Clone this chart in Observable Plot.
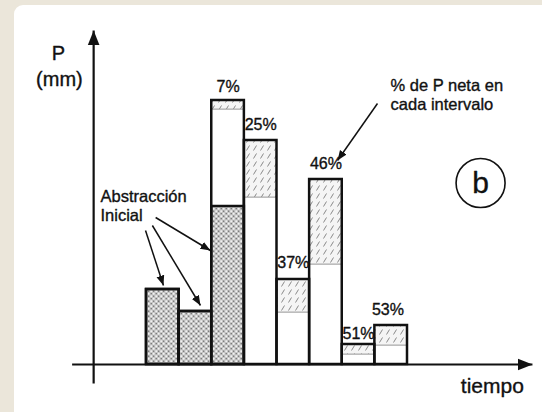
<!DOCTYPE html>
<html><head><meta charset="utf-8">
<script src="https://cdn.jsdelivr.net/npm/d3@7"></script>
<script src="https://cdn.jsdelivr.net/npm/@observablehq/plot@0.6"></script>
<style>
html,body{margin:0;padding:0;background:#ebe6da;}
#wrap{position:relative;width:542px;height:412px;overflow:hidden;}
#panel{position:absolute;left:14px;top:5px;width:560px;height:440px;background:#fff;border-radius:9px;}
#chart{position:absolute;left:0;top:0;}
</style></head><body>
<div id="wrap"><div id="panel"></div><div id="chart"></div></div>
<script>
// Time intervals and rainfall components (mm)
const intervals = [1, 2, 3, 4, 5, 6, 7, 8];
const abstraction = [7.5, 5.3, 15.8, 0, 0, 0, 0, 0];   // dotted: initial abstraction
const losses = [0, 0, 9.7, 16.7, 5.2, 10.0, 1.0, 1.9];    // white: continuing losses
const netRain = [0, 0, 0.9, 5.7, 3.3, 8.5, 1.0, 2.0];     // hatched: net precipitation
const pctLabels = ["", "", "7%", "25%", "37%", "46%", "51%", "53%"];
const pctX = [null, null, 2.5, 3.5, 4.5, 5.5, 6.5, 7.4];
const pctY = [null, null, 27.8, 24.0, 10.2, 20.1, 3.05, 5.5];

// axes (data units)
const axisLinks = [
  {x1: -1.62, y1: -1.9, x2: -1.62, y2: 33.4},
  {x1: -2.28, y1: 0, x2: 11.83, y2: 0}
];
const axisTitles = [
  {x: -2.70, y: 31.05, text: "P", size: 20},
  {x: -2.67, y: 28.5, text: "(mm)", size: 20},
  {x: 10.6, y: -2.2, text: "tiempo", size: 21}
];
const noteTexts = [
  {x: -1.41, y: 16.8, text: "Abstracción"},
  {x: -1.41, y: 14.85, text: "Inicial"},
  {x: 7.48, y: 27.85, text: "% de P neta en"},
  {x: 7.48, y: 25.95, text: "cada intervalo"}
];
const noteArrows = [
  {x1: -0.03, y1: 13.4, x2: 0.52, y2: 7.9},
  {x1: 0.18, y1: 13.9, x2: 1.655, y2: 5.9},
  {x1: 0.28, y1: 14.7, x2: 1.96, y2: 11.4},
  {x1: 7.08, y1: 26.1, x2: 5.855, y2: 20.4}
];
const panelTag = [{x: 10.24, y: 18.15, text: "b"}];

const rows = intervals.flatMap((t, i) => {
  const a = abstraction[i], l = losses[i], n = netRain[i];
  return [
    {t, kind: "abs", y1: 0, y2: a},
    {t, kind: "loss", y1: a, y2: a + l},
    {t, kind: "net", y1: a + l, y2: a + l + n}
  ].filter(d => d.y2 > d.y1);
});
const totals = intervals.map((t, i) => ({t, total: abstraction[i] + losses[i] + netRain[i]}));
const pcts = intervals.map((t, i) => ({x: pctX[i], y: pctY[i], text: pctLabels[i]})).filter(d => d.text);

const font = "Liberation Sans, Arial, Helvetica, sans-serif";
const ink = {fill: "#111", stroke: "#111", strokeWidth: 0.35};
const svg = Plot.plot({
  width: 542, height: 412, margin: 0,
  x: {domain: [0, 8], range: [146, 407], axis: null},
  y: {domain: [0, 26.4], range: [364, 100], axis: null},
  style: {background: "transparent", fontFamily: font, overflow: "visible", color: "#111"},
  marks: [
    Plot.rect(rows.filter(d => d.kind === "loss"), {x1: d => d.t - 1, x2: d => d.t, y1: "y1", y2: "y2", fill: "white", stroke: "#999", strokeWidth: 0.8}),
    Plot.rect(rows.filter(d => d.kind === "net"), {x1: d => d.t - 1, x2: d => d.t, y1: "y1", y2: "y2", fill: "url(#hatch)", stroke: "#999", strokeWidth: 0.8}),
    Plot.rect(rows.filter(d => d.kind === "abs"), {x1: d => d.t - 1, x2: d => d.t, y1: "y1", y2: "y2", fill: "url(#stip)", stroke: "#111", strokeWidth: 2.5}),
    Plot.rect(totals, {x1: d => d.t - 1, x2: d => d.t, y1: 0, y2: "total", fill: "none", stroke: "#111", strokeWidth: 2.5}),
    Plot.link(axisLinks, {x1: "x1", y1: "y1", x2: "x2", y2: "y2", stroke: "#111", strokeWidth: 2.2, markerEnd: "arrow"}),
    Plot.link(noteArrows, {x1: "x1", y1: "y1", x2: "x2", y2: "y2", stroke: "#111", strokeWidth: 1.5, markerEnd: "arrow"}),
    Plot.text(pcts, {x: "x", y: "y", text: "text", fontSize: 16, ...ink}),
    Plot.text(axisTitles, {x: "x", y: "y", text: "text", fontSize: d => d.size, ...ink}),
    Plot.text(noteTexts, {x: "x", y: "y", text: "text", fontSize: 16.5, textAnchor: "start", ...ink}),
    Plot.dot(panelTag, {x: "x", y: "y", r: 24.5, stroke: "#111", strokeWidth: 1.6, fill: "none"}),
    Plot.text(panelTag, {x: "x", y: "y", text: "text", fontSize: 30, ...ink})
  ]
});

// patterns for fills
const defs = d3.select(svg).insert("defs", ":first-child");
const stip = defs.append("pattern").attr("id", "stip").attr("patternUnits", "userSpaceOnUse").attr("width", 5).attr("height", 5);
stip.append("rect").attr("width", 5).attr("height", 5).attr("fill", "#c4c4c4");
stip.append("circle").attr("cx", 1.2).attr("cy", 1.2).attr("r", 0.95).attr("fill", "#f2f2f2");
stip.append("circle").attr("cx", 3.7).attr("cy", 3.7).attr("r", 0.95).attr("fill", "#f2f2f2");
stip.append("circle").attr("cx", 3.7).attr("cy", 1.2).attr("r", 0.6).attr("fill", "#555");
stip.append("circle").attr("cx", 1.2).attr("cy", 3.7).attr("r", 0.6).attr("fill", "#555");
const hatch = defs.append("pattern").attr("id", "hatch").attr("patternUnits", "userSpaceOnUse").attr("width", 7).attr("height", 8);
hatch.append("rect").attr("width", 7).attr("height", 8).attr("fill", "#f5f5f5");
hatch.append("line").attr("x1", 1.5).attr("y1", 6.5).attr("x2", 4.5).attr("y2", 1.5).attr("stroke", "#8a8a8a").attr("stroke-width", 1);

// filled arrowheads
d3.select(svg).selectAll("marker")
  .attr("viewBox", "-10 -5 10 10")
  .attr("fill", "#111").attr("stroke", "none")
  .selectAll("path").attr("d", "M-10,-4L0,0L-10,4Z");

document.getElementById("chart").appendChild(svg);
</script>
</body></html>
